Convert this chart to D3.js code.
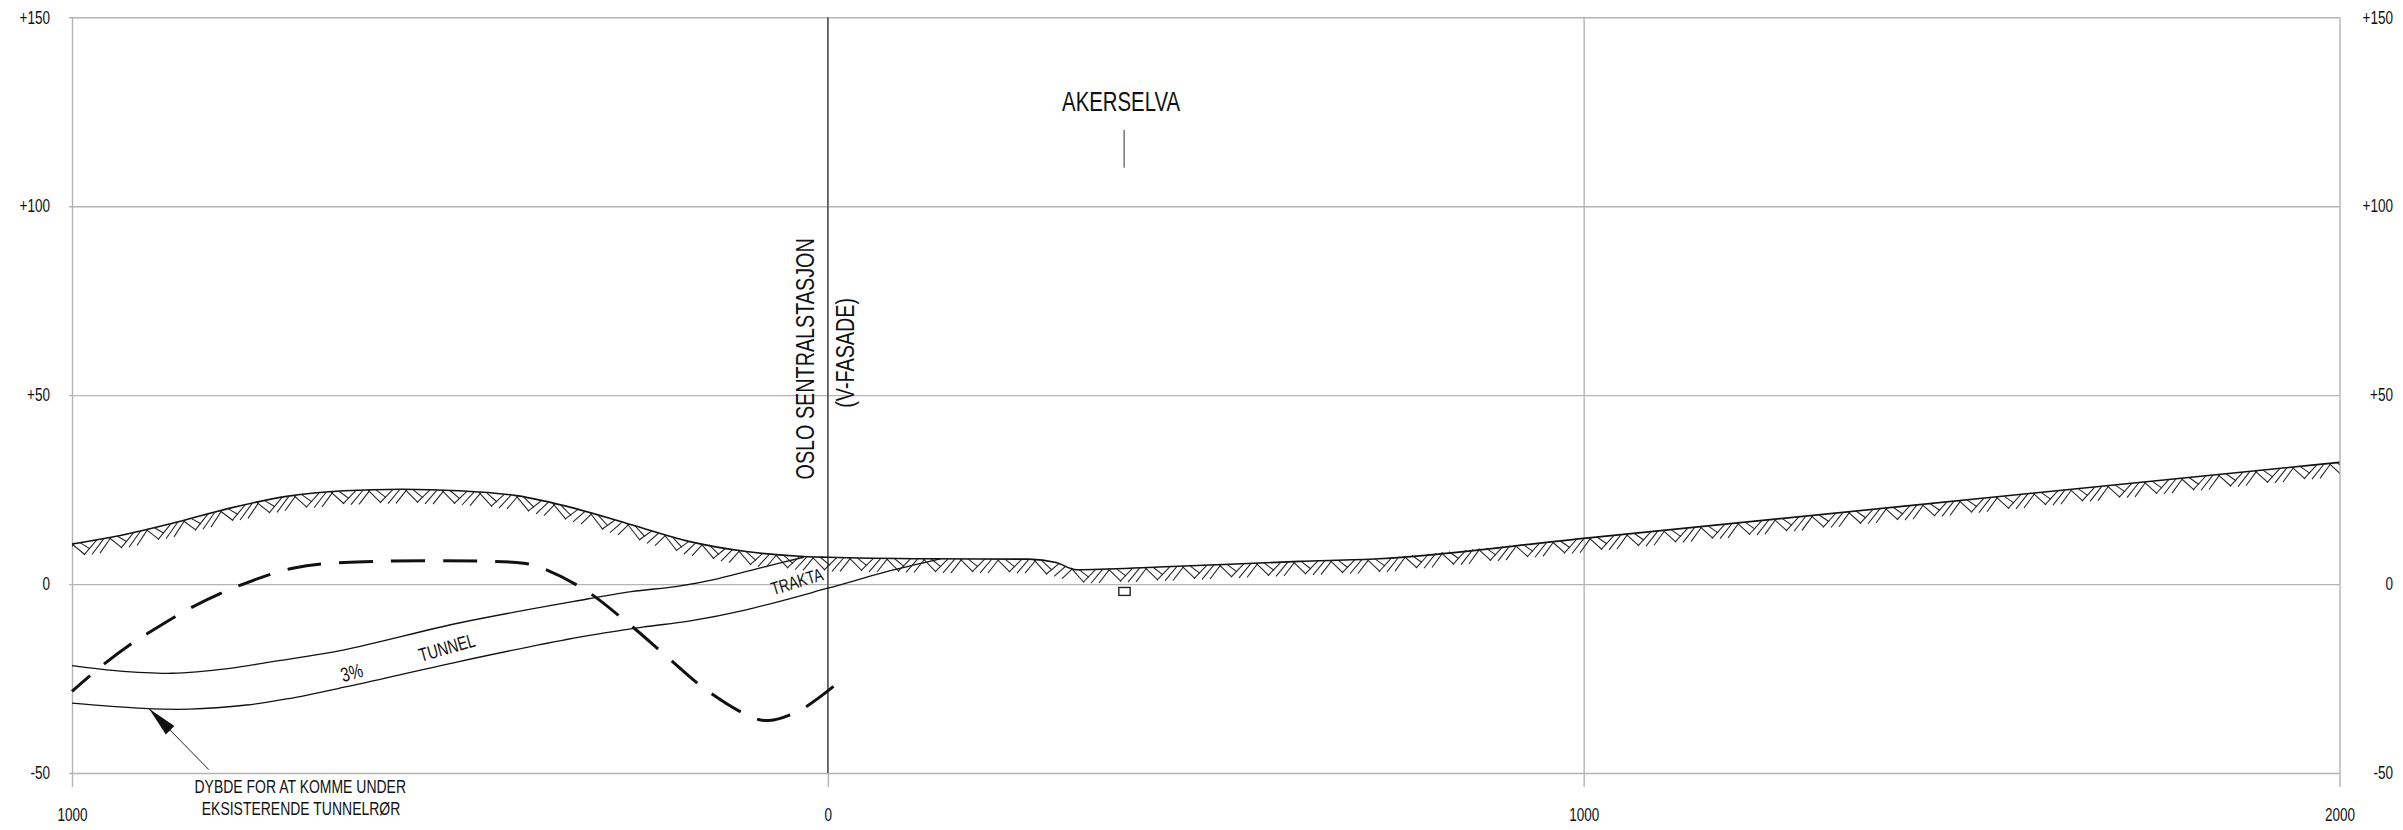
<!DOCTYPE html>
<html>
<head>
<meta charset="utf-8">
<script src="https://cdn.jsdelivr.net/npm/d3@7"></script>
<style>
  body { margin: 0; background: #fff; }
  text { font-family: "Liberation Sans", sans-serif; fill: #111; }
</style>
</head>
<body>
<div id="chart"></div>
<script>
//Width and height
var w = 2403;
var h = 830;

//Tick values and labels
var xTicks = [-1000, 0, 1000, 2000];
var xTickLabels = ["1000", "0", "1000", "2000"];
var yTicks = [150, 100, 50, 0, -50];
var yTickLabels = ["+150", "+100", "+50", "0", "-50"];

//Ground surface
var terrainX = [-1000, -943, -867, -791, -716, -640, -564, -488, -412, -336, -260, -184, -108, -32, 0, 135, 266, 302, 329, 438, 624, 729, 1000, 1418, 1705, 2000];
var terrainY = [10.6, 12.6, 16.1, 20.1, 23.2, 24.7, 25.1, 24.7, 23.4, 20.1, 15.7, 11.3, 8.6, 7.3, 7.1, 6.7, 6.6, 5.7, 3.8, 4.5, 6.0, 6.7, 12.1, 20.5, 26.3, 32.2];

//Tunnel, upper and lower line
var tunnelTopX = [-1000, -943, -868, -791, -731, -640, -488, -336, -260, -199, -146, -85, -32];
var tunnelTopY = [-21.6, -22.9, -23.6, -22.3, -20.4, -17.4, -10.3, -4.6, -2, -0.6, 1.4, 4.5, 7.1];
var tunnelBottomX = [-1000, -905, -845, -769, -716, -640, -488, -336, -245, -184, -108, 0, 84, 149];
var tunnelBottomY = [-31.5, -32.9, -33.1, -32, -30.4, -27.3, -20.5, -14.3, -11.4, -9.8, -6.8, -1.1, 3.6, 6.7];

//Depth needed to pass under the existing tunnel pipes (dashed)
var depthX = [-1000, -959, -920, -901, -841, -776, -708, -640, -412, -385, -324, -267, -214, -161, -101, -78, -36, 13];
var depthY = [-28.4, -21.4, -15.6, -13.2, -6.1, -0.2, 4.2, 5.7, 5.7, 4.7, -1.2, -9.9, -19, -28, -35.2, -36.1, -33.3, -26.2];

var x = d3.scaleLinear().domain([-1000, 2000]).range([72, 2339.5]);
var y = d3.scaleLinear().domain([150, -50]).range([17.3, 773]);

//no narrow font installed, so squeeze the glyphs to the drawing's proportions
function squeeze(selection) {
  selection.each(function() {
    d3.select(this)
      .attr("textLength", this.getComputedTextLength() * 0.76)
      .attr("lengthAdjust", "spacingAndGlyphs");
  });
}

//Create SVG element
var svg = d3.select("#chart")
  .append("svg")
  .attr("width", w)
  .attr("height", h);

svg.append("clipPath")
  .attr("id", "plotClip")
  .append("rect")
  .attr("x", x(-1000))
  .attr("y", y(150))
  .attr("width", x(2000) - x(-1000))
  .attr("height", y(-50) - y(150));

//Horizontal grid and left labels
var yAxis = svg.append("g")
  .attr("transform", "translate(" + x(-1000) + ",0)")
  .call(d3.axisLeft(y)
    .tickValues(yTicks)
    .tickFormat(function(d, i) { return yTickLabels[i]; }));
yAxis.select(".domain").remove();
yAxis.selectAll("line")
  .attr("x1", -3)
  .attr("x2", x(2000) - x(-1000))
  .attr("stroke", "#b4b4b4")
  .attr("stroke-width", 1.4);
yAxis.selectAll("text")
  .attr("x", -22)
  .attr("text-anchor", "end")
  .attr("font-size", "17.8px")
  .call(squeeze);

//Right labels
var yAxisRight = svg.append("g")
  .attr("transform", "translate(" + x(2000) + ",0)")
  .call(d3.axisRight(y)
    .tickValues(yTicks)
    .tickSize(0)
    .tickFormat(function(d, i) { return yTickLabels[i]; }));
yAxisRight.select(".domain").remove();
yAxisRight.selectAll("text")
  .attr("x", 53.5)
  .attr("text-anchor", "end")
  .attr("font-size", "17.8px")
  .call(squeeze);

//Vertical grid and bottom labels
var xAxis = svg.append("g")
  .attr("transform", "translate(0," + y(-50) + ")")
  .call(d3.axisBottom(x)
    .tickValues(xTicks)
    .tickFormat(function(d, i) { return xTickLabels[i]; }));
xAxis.select(".domain").remove();
xAxis.selectAll("line")
  .attr("y1", 14)
  .attr("y2", y(150) - y(-50))
  .attr("stroke", "#b4b4b4")
  .attr("stroke-width", 1.4);
xAxis.selectAll("text")
  .attr("y", 42)
  .attr("dy", "0.35em")
  .attr("font-size", "17.8px")
  .call(squeeze);

//Darker line at the station front
svg.append("line")
  .attr("x1", x(0))
  .attr("x2", x(0))
  .attr("y1", y(150))
  .attr("y2", y(-50))
  .attr("stroke", "#5a5a5a")
  .attr("stroke-width", 1.6);

function drawLine(xs, ys, width, curve) {
  var line = d3.line()
    .x(function(d) { return x(d); })
    .y(function(d, i) { return y(ys[i]); })
    .curve(curve);
  return svg.append("path")
    .attr("d", line(xs))
    .attr("fill", "none")
    .attr("stroke", "#111")
    .attr("stroke-width", width);
}

drawLine(terrainX, terrainY, 1.6, d3.curveMonotoneX);
drawLine(tunnelTopX, tunnelTopY, 1.3, d3.curveCatmullRom);
drawLine(tunnelBottomX, tunnelBottomY, 1.3, d3.curveCatmullRom);
drawLine(depthX, depthY, 3, d3.curveCatmullRom)
  .attr("stroke-dasharray", "34 18")
  .attr("stroke-dashoffset", 10);

//Ground hatching, the same short strokes repeated below the surface
var surface = d3.scaleLinear().domain(terrainX).range(terrainY);
function surfaceAt(px) {
  return y(surface(x.invert(Math.max(72, Math.min(2339.5, px)))));
}
var tile = [
  [0, 0, 13, 13],
  [8, 0, 18, 8],
  [25, 0, 12, 13],
  [32, 0, 20, 14],
  [39, 0, 28, 14]
];
var period = 37;
var hatch = svg.append("g")
  .attr("clip-path", "url(#plotClip)")
  .attr("stroke", "#222")
  .attr("stroke-width", 1.05);
d3.range(x(-1000) - period, x(2000) + period, period).forEach(function(start) {
  hatch.selectAll(null)
    .data(tile)
    .enter()
    .append("line")
    .attr("x1", function(d) { return start + d[0]; })
    .attr("y1", function(d) { return surfaceAt(start + d[0]) + d[1]; })
    .attr("x2", function(d) { return start + d[2]; })
    .attr("y2", function(d) { return surfaceAt(start + d[2]) + d[3]; });
});

//Marker under the AKERSELVA label and the culvert box
svg.append("line")
  .attr("x1", x(392))
  .attr("x2", x(392))
  .attr("y1", y(120.2))
  .attr("y2", y(110.2))
  .attr("stroke", "#333")
  .attr("stroke-width", 1);
svg.append("rect")
  .attr("x", x(385))
  .attr("y", y(-0.9))
  .attr("width", x(400) - x(385))
  .attr("height", y(-3) - y(-0.9))
  .attr("fill", "#fff")
  .attr("stroke", "#222")
  .attr("stroke-width", 1.4);

//Arrow to the lower tunnel line
var arrowTail = [-819, -49.1];
var arrowTip = [-898, -33];
var tipX = x(arrowTip[0]), tipY = y(arrowTip[1]);
var tailX = x(arrowTail[0]), tailY = y(arrowTail[1]);
var len = Math.hypot(tailX - tipX, tailY - tipY);
var ux = (tailX - tipX) / len, uy = (tailY - tipY) / len;
svg.append("line")
  .attr("x1", tailX)
  .attr("y1", tailY)
  .attr("x2", tipX)
  .attr("y2", tipY)
  .attr("stroke", "#222")
  .attr("stroke-width", 1);
svg.append("path")
  .attr("d", d3.line()([
    [tipX, tipY],
    [tipX + ux * 30 - uy * 6, tipY + uy * 30 + ux * 6],
    [tipX + ux * 30 + uy * 6, tipY + uy * 30 - ux * 6]
  ]) + "Z")
  .attr("fill", "#111");

//Text labels
var labelText = ["AKERSELVA", "OSLO SENTRALSTASJON", "(V-FASADE)", "TUNNEL", "3%", "TRAKTA", "DYBDE FOR AT KOMME UNDER", "EKSISTERENDE TUNNELRØR"];
var labelX = [388, -30, 22, -504, -630, -41, -698, -697];
var labelY = [127.7, 59.6, 61.2, -16.8, -23.4, 0.7, -53.5, -59.3];
var labelSize = [26.8, 26, 26, 19, 20, 18.2, 18.4, 18.4];
var labelAngle = [0, -90, -90, -16, -16, -17, 0, 0];

svg.append("g")
  .selectAll("text")
  .data(labelText)
  .enter()
  .append("text")
  .text(function(d) { return d; })
  .attr("text-anchor", "middle")
  .attr("dy", "0.35em")
  .attr("font-size", function(d, i) { return labelSize[i] + "px"; })
  .attr("transform", function(d, i) {
    return "translate(" + x(labelX[i]) + "," + y(labelY[i]) + ") rotate(" + labelAngle[i] + ")";
  })
  .call(squeeze);
</script>
</body>
</html>
